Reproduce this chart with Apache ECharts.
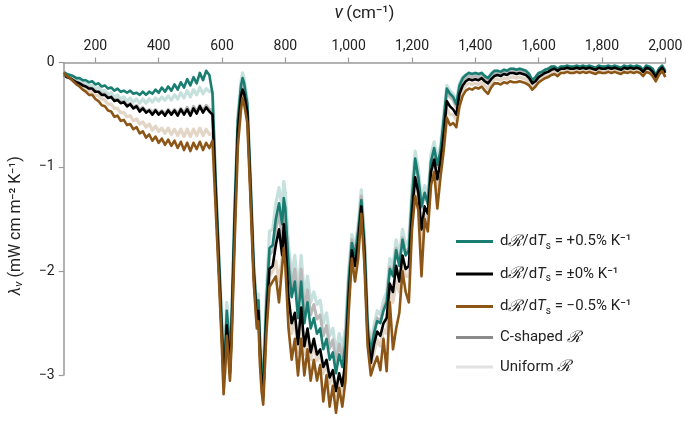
<!DOCTYPE html>
<html><head><meta charset="utf-8">
<script src="https://cdn.jsdelivr.net/npm/echarts@6/dist/echarts.min.js"></script>
<style>html,body{margin:0;padding:0;background:#fff}#c{width:685px;height:422px}</style>
</head><body><div id="c"></div>
<script>
// wavenumbers (cm^-1)
const wavenumbers = [
100,110,120,130,140,150,160,170,180,190,200,210,220,230,240,250,260,270,280,290,300,310,320,330,340,350,360,370,380,390,400,410,420,430,440,450,460,470,480,490,500,510,520,530,540,550,560,
570,580,590,600,605,610,615,620,625,630,640,650,660,665,670,680,690,700,710,715,720,725,730,740,750,760,770,780,790,795,800,
810,820,830,840,850,860,870,880,890,900,910,920,930,940,950,960,970,980,990,1000,
1010,1020,1030,1040,1050,1060,1070,1080,1090,1100,1110,1120,1130,1140,1150,1160,1170,1180,1190,1200,
1210,1220,1230,1240,1250,1260,1270,1280,1290,1300,1310,1320,1330,1340,1350,1360,1370,1380,1390,1400,
1410,1420,1430,1440,1450,1460,1470,1480,1490,1500,1510,1520,1530,1540,1550,1560,1570,1580,1590,1600,
1610,1620,1630,1640,1650,1660,1670,1680,1690,1700,1710,1720,1730,1740,1750,1760,1770,1780,1790,1800,
1810,1820,1830,1840,1850,1860,1870,1880,1890,1900,1910,1920,1930,1940,1950,1960,1970,1980,1990,2000];

// dR/dTs = +0.5% K^-1 (C-shaped)
const plus05 = [
-0.09,-0.11,-0.12,-0.13,-0.15,-0.15,-0.17,-0.17,-0.19,-0.18,-0.21,-0.20,-0.23,-0.22,-0.25,-0.24,-0.27,-0.25,-0.28,-0.27,-0.29,-0.27,-0.30,-0.29,-0.31,-0.28,-0.31,-0.28,-0.30,-0.26,-0.29,-0.24,-0.28,-0.23,-0.27,-0.21,-0.26,-0.19,-0.24,-0.16,-0.22,-0.14,-0.20,-0.10,-0.17,-0.08,-0.12,
-0.30,-1.15,-1.85,-2.55,-2.90,-2.75,-2.38,-2.55,-2.88,-2.50,-1.40,-0.55,-0.22,-0.15,-0.20,-0.40,-1.15,-1.95,-2.40,-2.28,-2.70,-2.95,-3.10,-2.30,-1.78,-1.75,-1.50,-1.35,-1.55,-1.30,-1.40,
-1.95,-2.25,-2.10,-2.45,-2.10,-2.50,-2.30,-2.55,-2.45,-2.60,-2.55,-2.75,-2.65,-2.85,-2.78,-2.98,-2.80,-2.92,-2.70,-2.10,
-1.73,-1.85,-1.62,-1.32,-1.75,-2.55,-2.78,-2.60,-2.48,-2.50,-2.38,-2.30,-1.98,-2.05,-1.80,-1.95,-1.70,-1.85,-1.80,-1.30,
-0.92,-1.10,-1.38,-1.25,-1.35,-0.95,-0.82,-0.98,-0.85,-0.55,-0.25,-0.30,-0.33,-0.40,-0.22,-0.15,-0.12,-0.10,-0.11,-0.10,
-0.11,-0.10,-0.13,-0.15,-0.11,-0.08,-0.08,-0.09,-0.07,-0.08,-0.06,-0.06,-0.07,-0.06,-0.07,-0.08,-0.11,-0.17,-0.14,-0.10,
-0.09,-0.07,-0.06,-0.04,-0.04,-0.06,-0.04,-0.04,-0.03,-0.04,-0.04,-0.03,-0.04,-0.03,-0.04,-0.03,-0.04,-0.05,-0.03,-0.04,
-0.04,-0.03,-0.04,-0.03,-0.04,-0.05,-0.03,-0.04,-0.03,-0.04,-0.03,-0.04,-0.07,-0.03,-0.04,-0.06,-0.12,-0.06,-0.03,-0.08];

// dR/dTs = ±0% K^-1 (C-shaped)
const zero0 = [
-0.12,-0.14,-0.15,-0.17,-0.19,-0.20,-0.22,-0.23,-0.25,-0.25,-0.28,-0.28,-0.31,-0.31,-0.34,-0.33,-0.37,-0.36,-0.39,-0.38,-0.42,-0.40,-0.44,-0.42,-0.47,-0.44,-0.48,-0.46,-0.50,-0.46,-0.50,-0.47,-0.51,-0.46,-0.50,-0.46,-0.51,-0.45,-0.50,-0.45,-0.51,-0.44,-0.49,-0.42,-0.48,-0.43,-0.47,
-0.50,-1.25,-1.95,-2.65,-3.05,-2.85,-2.52,-2.70,-2.98,-2.60,-1.55,-0.65,-0.32,-0.26,-0.30,-0.48,-1.22,-2.02,-2.48,-2.38,-2.80,-3.05,-3.20,-2.45,-1.98,-1.95,-1.75,-1.60,-1.85,-1.55,-1.70,
-2.25,-2.50,-2.40,-2.70,-2.35,-2.72,-2.55,-2.78,-2.65,-2.80,-2.75,-2.92,-2.85,-3.02,-2.95,-3.15,-2.98,-3.10,-2.85,-2.25,
-1.80,-1.95,-1.72,-1.38,-1.85,-2.62,-2.88,-2.70,-2.58,-2.62,-2.50,-2.45,-2.12,-2.20,-1.95,-2.10,-1.85,-1.98,-1.95,-1.45,
-1.10,-1.25,-1.60,-1.38,-1.45,-1.05,-0.93,-1.12,-0.95,-0.70,-0.37,-0.42,-0.45,-0.50,-0.30,-0.22,-0.18,-0.16,-0.17,-0.16,
-0.17,-0.15,-0.18,-0.20,-0.16,-0.13,-0.12,-0.13,-0.11,-0.12,-0.10,-0.10,-0.11,-0.10,-0.11,-0.12,-0.15,-0.20,-0.18,-0.14,
-0.12,-0.10,-0.09,-0.07,-0.06,-0.08,-0.06,-0.06,-0.05,-0.06,-0.06,-0.05,-0.06,-0.05,-0.06,-0.05,-0.06,-0.07,-0.05,-0.06,
-0.06,-0.05,-0.06,-0.05,-0.06,-0.07,-0.05,-0.06,-0.05,-0.06,-0.05,-0.06,-0.09,-0.05,-0.06,-0.09,-0.14,-0.08,-0.05,-0.10];

// dR/dTs = -0.5% K^-1 (C-shaped)
const minus05 = [
-0.10,-0.13,-0.15,-0.18,-0.21,-0.23,-0.26,-0.28,-0.31,-0.31,-0.35,-0.37,-0.41,-0.42,-0.46,-0.47,-0.52,-0.51,-0.56,-0.55,-0.60,-0.59,-0.64,-0.62,-0.68,-0.66,-0.72,-0.69,-0.75,-0.71,-0.77,-0.73,-0.79,-0.74,-0.80,-0.75,-0.82,-0.76,-0.84,-0.77,-0.85,-0.77,-0.83,-0.76,-0.84,-0.77,-0.82,
-0.75,-1.40,-2.05,-2.75,-3.18,-2.95,-2.62,-2.80,-3.05,-2.70,-1.70,-0.80,-0.45,-0.34,-0.40,-0.58,-1.30,-2.10,-2.55,-2.48,-2.90,-3.15,-3.28,-2.60,-2.15,-2.10,-2.05,-2.30,-1.95,-1.78,-1.95,
-2.55,-2.85,-2.65,-3.00,-2.65,-3.00,-2.75,-3.05,-2.85,-3.05,-2.90,-3.25,-3.00,-3.30,-3.10,-3.36,-3.12,-3.30,-3.05,-2.40,
-1.88,-2.10,-1.88,-1.45,-1.95,-2.72,-3.00,-2.90,-2.82,-2.95,-2.65,-2.96,-2.30,-2.75,-2.55,-2.40,-2.00,-2.20,-2.30,-1.60,
-1.28,-1.42,-2.05,-1.50,-1.62,-1.18,-1.05,-1.40,-1.10,-0.85,-0.53,-0.60,-0.58,-0.62,-0.42,-0.32,-0.27,-0.25,-0.26,-0.24,
-0.25,-0.23,-0.27,-0.30,-0.24,-0.20,-0.20,-0.21,-0.19,-0.20,-0.18,-0.19,-0.19,-0.18,-0.19,-0.20,-0.22,-0.26,-0.23,-0.19,
-0.17,-0.15,-0.14,-0.12,-0.11,-0.13,-0.10,-0.10,-0.09,-0.10,-0.10,-0.09,-0.10,-0.09,-0.10,-0.09,-0.10,-0.11,-0.09,-0.10,
-0.10,-0.09,-0.10,-0.09,-0.10,-0.11,-0.09,-0.10,-0.09,-0.10,-0.09,-0.10,-0.13,-0.09,-0.10,-0.13,-0.18,-0.12,-0.08,-0.14];

// Uniform R, +0.5% K^-1
const plus05Uniform = [
-0.10,-0.12,-0.13,-0.15,-0.16,-0.17,-0.19,-0.20,-0.22,-0.22,-0.25,-0.24,-0.27,-0.27,-0.30,-0.29,-0.33,-0.31,-0.35,-0.33,-0.37,-0.34,-0.38,-0.35,-0.39,-0.35,-0.39,-0.35,-0.38,-0.34,-0.37,-0.33,-0.36,-0.32,-0.36,-0.31,-0.35,-0.29,-0.34,-0.27,-0.33,-0.26,-0.31,-0.24,-0.30,-0.25,-0.28,
-0.28,-1.12,-1.82,-2.50,-2.82,-2.68,-2.30,-2.48,-2.80,-2.45,-1.35,-0.50,-0.18,-0.10,-0.16,-0.36,-1.10,-1.90,-2.35,-2.22,-2.62,-2.88,-3.02,-2.20,-1.62,-1.60,-1.35,-1.20,-1.40,-1.14,-1.25,
-1.75,-2.05,-1.85,-2.20,-1.85,-2.25,-2.05,-2.30,-2.20,-2.32,-2.28,-2.50,-2.40,-2.62,-2.55,-2.78,-2.60,-2.72,-2.55,-2.00,
-1.65,-1.78,-1.55,-1.22,-1.68,-2.48,-2.70,-2.52,-2.38,-2.42,-2.28,-2.20,-1.88,-1.95,-1.70,-1.85,-1.60,-1.75,-1.70,-1.20,
-0.85,-1.02,-1.30,-1.18,-1.28,-0.88,-0.76,-0.92,-0.80,-0.50,-0.22,-0.27,-0.30,-0.37,-0.20,-0.14,-0.12,-0.10,-0.11,-0.10,
-0.11,-0.10,-0.13,-0.15,-0.11,-0.08,-0.08,-0.09,-0.07,-0.08,-0.06,-0.06,-0.07,-0.06,-0.07,-0.08,-0.11,-0.17,-0.14,-0.10,
-0.09,-0.07,-0.06,-0.04,-0.04,-0.06,-0.04,-0.04,-0.03,-0.04,-0.04,-0.03,-0.04,-0.03,-0.04,-0.03,-0.04,-0.05,-0.03,-0.04,
-0.04,-0.03,-0.04,-0.03,-0.04,-0.05,-0.03,-0.04,-0.03,-0.04,-0.03,-0.04,-0.07,-0.03,-0.04,-0.06,-0.12,-0.06,-0.03,-0.08];

// Uniform R, ±0% K^-1
const zero0Uniform = [
-0.12,-0.14,-0.15,-0.17,-0.18,-0.20,-0.21,-0.23,-0.24,-0.25,-0.27,-0.28,-0.30,-0.30,-0.33,-0.33,-0.36,-0.35,-0.38,-0.37,-0.41,-0.39,-0.43,-0.41,-0.45,-0.43,-0.47,-0.45,-0.48,-0.45,-0.49,-0.46,-0.49,-0.45,-0.49,-0.45,-0.49,-0.44,-0.48,-0.43,-0.49,-0.42,-0.47,-0.41,-0.46,-0.41,-0.45,
-0.45,-1.22,-1.92,-2.62,-3.00,-2.80,-2.46,-2.64,-2.93,-2.55,-1.50,-0.60,-0.28,-0.22,-0.27,-0.45,-1.18,-1.98,-2.44,-2.33,-2.74,-2.98,-3.14,-2.38,-1.85,-1.80,-1.60,-1.45,-1.68,-1.40,-1.52,
-1.85,-2.15,-1.98,-2.32,-1.98,-2.38,-2.18,-2.42,-2.32,-2.46,-2.42,-2.62,-2.52,-2.74,-2.66,-2.88,-2.70,-2.82,-2.62,-2.05,
-1.70,-1.82,-1.60,-1.28,-1.72,-2.52,-2.75,-2.58,-2.45,-2.48,-2.35,-2.28,-1.96,-2.02,-1.78,-1.92,-1.68,-1.82,-1.78,-1.30,
-0.95,-1.12,-1.40,-1.26,-1.36,-0.96,-0.84,-1.00,-0.88,-0.58,-0.28,-0.33,-0.36,-0.43,-0.25,-0.18,-0.15,-0.13,-0.14,-0.13,
-0.14,-0.12,-0.15,-0.17,-0.13,-0.10,-0.10,-0.11,-0.09,-0.10,-0.08,-0.08,-0.09,-0.08,-0.09,-0.10,-0.13,-0.18,-0.16,-0.12,
-0.11,-0.09,-0.08,-0.06,-0.05,-0.07,-0.05,-0.05,-0.04,-0.05,-0.05,-0.04,-0.05,-0.04,-0.05,-0.04,-0.05,-0.06,-0.04,-0.05,
-0.05,-0.04,-0.05,-0.04,-0.05,-0.06,-0.04,-0.05,-0.04,-0.05,-0.04,-0.05,-0.08,-0.04,-0.05,-0.08,-0.13,-0.07,-0.04,-0.09];

// Uniform R, -0.5% K^-1
const minus05Uniform = [
-0.11,-0.13,-0.15,-0.17,-0.19,-0.21,-0.23,-0.25,-0.27,-0.28,-0.31,-0.32,-0.35,-0.36,-0.40,-0.40,-0.44,-0.44,-0.48,-0.48,-0.52,-0.51,-0.56,-0.54,-0.59,-0.57,-0.62,-0.59,-0.65,-0.61,-0.66,-0.63,-0.68,-0.63,-0.69,-0.64,-0.70,-0.64,-0.71,-0.64,-0.71,-0.64,-0.70,-0.63,-0.70,-0.64,-0.69,
-0.68,-1.35,-2.00,-2.70,-3.12,-2.90,-2.58,-2.76,-3.02,-2.66,-1.65,-0.75,-0.40,-0.30,-0.36,-0.54,-1.27,-2.06,-2.52,-2.43,-2.86,-3.10,-3.24,-2.52,-2.05,-2.00,-1.90,-2.10,-1.88,-1.68,-1.85,
-2.30,-2.60,-2.45,-2.78,-2.42,-2.80,-2.60,-2.85,-2.70,-2.86,-2.78,-2.98,-2.88,-3.08,-2.98,-3.20,-3.02,-3.15,-2.90,-2.30,
-1.83,-2.00,-1.76,-1.40,-1.88,-2.66,-2.92,-2.78,-2.66,-2.72,-2.56,-2.60,-2.18,-2.30,-2.10,-2.20,-1.90,-2.05,-2.05,-1.50,
-1.15,-1.32,-1.75,-1.42,-1.52,-1.10,-0.98,-1.22,-1.02,-0.76,-0.44,-0.50,-0.50,-0.55,-0.35,-0.26,-0.22,-0.20,-0.21,-0.20,
-0.21,-0.19,-0.22,-0.25,-0.20,-0.16,-0.16,-0.17,-0.15,-0.16,-0.14,-0.14,-0.15,-0.14,-0.15,-0.16,-0.19,-0.23,-0.20,-0.16,
-0.15,-0.13,-0.12,-0.10,-0.09,-0.11,-0.08,-0.08,-0.07,-0.08,-0.08,-0.07,-0.08,-0.07,-0.08,-0.07,-0.08,-0.09,-0.07,-0.08,
-0.08,-0.07,-0.08,-0.07,-0.08,-0.09,-0.07,-0.08,-0.07,-0.08,-0.07,-0.08,-0.11,-0.07,-0.08,-0.11,-0.16,-0.10,-0.07,-0.12];

const xTicks = [200,400,600,800,1000,1200,1400,1600,1800,2000];
const yTicks = [0,-1,-2,-3];

const pair = arr => wavenumbers.map((w,i)=>[w,arr[i]]);
const FONT = 'Roboto';
const TXT = '#222';

const chart = echarts.init(document.getElementById('c'));
const lineS = (name, data, color, width, z, extra) => Object.assign({
  type:'line', name, data: pair(data), symbol:'none', showSymbol:false,
  lineStyle:{color, width, join:'round'}, itemStyle:{color}, z, animation:false, silent:true
}, extra||{});

const rich = {
  n:{fontSize:15, fontFamily:FONT, color:TXT, lineHeight:18},
  r:{fontSize:16, fontFamily:'DejaVu Serif', fontStyle:'italic', color:TXT, lineHeight:18},
  i:{fontSize:15, fontFamily:FONT, fontStyle:'italic', color:TXT, lineHeight:18},
  s:{fontSize:10, fontFamily:FONT, color:TXT, lineHeight:18, padding:[9,0,0,0]}
};
const legendText = {
  p05:'{n|d}{r|ℛ}{n|/d}{i|T}{s|s}{n| = +0.5% K⁻¹}',
  z0:'{n|d}{r|ℛ}{n|/d}{i|T}{s|s}{n| = ±0% K⁻¹}',
  m05:'{n|d}{r|ℛ}{n|/d}{i|T}{s|s}{n| = −0.5% K⁻¹}',
  cs:'{n|C-shaped }{r|ℛ}',
  un:'{n|Uniform }{r|ℛ}'
};

chart.setOption({
  animation:false,
  grid:{left:63.7, right:19.7, top:62.5, bottom:4.9, outerBoundsMode:'none', containLabel:false},
  xAxis:{
    type:'value', position:'top', min:100, max:2000,
    name:'{i|ν} {n|(cm⁻¹)}', nameLocation:'middle', nameGap:40,
    nameTextStyle:{rich:{i:{fontSize:18,fontStyle:'italic',fontFamily:FONT,color:TXT},n:{fontSize:17,fontFamily:FONT,color:TXT}}},
    axisLine:{lineStyle:{color:'#999', width:1.5}},
    axisTick:{customValues:xTicks, length:5, lineStyle:{color:'#999', width:1.2}},
    axisLabel:{customValues:xTicks, margin:9, fontSize:14, fontFamily:FONT, color:TXT,
      formatter:v=>Number(v).toLocaleString('en-US')},
    splitLine:{show:false}
  },
  yAxis:{
    type:'value', min:-3.4, max:0,
    name:'{i|λ}{s|ν}{n| (mW cm m⁻² K⁻¹)}', nameLocation:'middle', nameGap:38, nameRotate:90,
    nameTextStyle:{padding:[0,0,0,28], rich:{
      i:{fontSize:16,fontStyle:'italic',fontFamily:FONT,color:TXT,lineHeight:20},
      s:{fontSize:11,fontStyle:'italic',fontFamily:FONT,color:TXT,lineHeight:20,padding:[8,0,0,0]},
      n:{fontSize:16,fontFamily:FONT,color:TXT,lineHeight:20}}},
    axisLine:{show:false},
    axisTick:{show:true, customValues:yTicks, length:5, lineStyle:{color:'#999', width:1.2}},
    axisLabel:{customValues:yTicks, margin:9, fontSize:14, fontFamily:FONT, color:TXT,
      formatter:v=> v===0 ? '0' : '−'+Math.abs(v)},
    splitLine:{show:false}
  },
  legend:{
    left:456, top:232, padding:0, orient:'vertical', icon:'rect', itemWidth:37, itemHeight:3, itemGap:13.5,
    selectedMode:false,
    data:[
      {name:'p05'},{name:'z0'},{name:'m05'},
      {name:'cs', itemStyle:{color:'#8a8a8a'}},
      {name:'un', itemStyle:{color:'#e2e2e2'}}
    ],
    textStyle:{rich, padding:[0,0,0,2]},
    formatter:n=>legendText[n]
  },
  series:[
    lineS('un', plus05Uniform, '#c6e1dd', 3.2, 1),
    lineS('un', minus05Uniform, '#e3d6c7', 3.2, 1),
    lineS('un', zero0Uniform, '#b9b9b9', 3, 1),
    {type:'line', name:'cs', data:[], itemStyle:{color:'#8a8a8a'}, lineStyle:{color:'#8a8a8a'}, symbol:'none'},
    lineS('p05', plus05, '#1a7d72', 2.6, 3),
    lineS('z0', zero0, '#000000', 2.6, 4),
    lineS('m05', minus05, '#8c5616', 2.6, 5, {clip:false,
      markLine:{silent:true, symbol:'none', animation:false, label:{show:false},
        lineStyle:{color:'#999', width:1.5, type:'solid'},
        data:[[{coord:[100,0]},{coord:[100,-3]}]]}})
  ]
});
</script></body></html>
